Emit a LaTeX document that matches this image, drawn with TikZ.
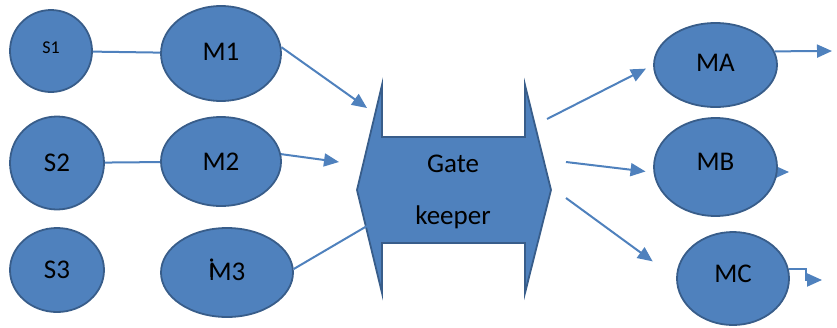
\documentclass[tikz,border=0pt]{standalone}
\usepackage{fontspec}
\setmainfont{Carlito}
\usepackage{tikz}
\usetikzlibrary{arrows.meta}
\usetikzlibrary{shapes.geometric}
\definecolor{boxfill}{HTML}{4F81BD}
\definecolor{boxline}{HTML}{385D8A}

\begin{document}
\begin{tikzpicture}[
x=1pt,y=-1pt,
MyEllipses/.style={ellipse,draw=boxline,fill=boxfill,line width=1.8pt,inner sep=0pt,
  font=\fontsize{27}{30}\selectfont},
Links/.style={draw=boxfill,line width=2pt,line join=miter},
MyArrows/.style={Links,-{Triangle[length=15pt,width=13pt]}}
]
\useasboundingbox (0,0) rectangle (837,327);

% senders
\node[MyEllipses,minimum width=82pt,minimum height=82pt,text depth=6pt,font=\fontsize{18}{20}\selectfont] (S1) at (51,51) {S1};
\node[MyEllipses,minimum width=94pt,minimum height=93pt] (S2) at (57,163) {S2};
\node[MyEllipses,minimum width=94pt,minimum height=84pt] (S3) at (57,270) {S3};

% their mail servers
\node[MyEllipses,minimum width=120pt,minimum height=95pt,text depth=4pt] (M1) at (221,53.5) {M1};
\node[MyEllipses,minimum width=120pt,minimum height=89pt] (M2) at (221,161.5) {M2};
\node[MyEllipses,minimum width=132pt,minimum height=89pt,text depth=6pt] (M3) at (227,272.5) {\rlap{\raisebox{3pt}{i}}M3};

\draw[Links] (S1) -- (M1);
\draw[Links] (S2) -- (M2);

% the gate keeper, a double arrow with open notches
\coordinate (GL) at (357,190);
\coordinate (GR) at (551,190);
\draw[draw=boxline,fill=boxfill,line width=1.8pt,line join=miter]
  (382,85) -- (382,137) -- (525,137) -- (525,85) -- (GR) -- (525,293)
  -- (525,243) -- (382,243) -- (382,293) -- (GL) -- cycle;
\node[anchor=base,font=\fontsize{27}{30}\selectfont] (Gate) at (453,172) {Gate};
\node[anchor=base,font=\fontsize{27}{30}\selectfont] (Keeper) at (453,224) {keeper};

% ends of the lines on both sides of the gate
\coordinate (InA) at (367,108);
\coordinate (InB) at (339,162);
\coordinate (InC) at (367,226);
\coordinate (OutA) at (547,119);
\coordinate (OutB) at (566,162);
\coordinate (OutC) at (566,198);

\draw[MyArrows] (M1.6) -- (InA);
\draw[MyArrows] (M2.7) -- (InB);
\draw[Links] (M3.3) -- (InC);

% receiving servers
\coordinate (EndA) at (832,51);
\coordinate (EndB) at (789,172);
\coordinate (EndC) at (822,280);

%% MB's outgoing arrow sits behind the ellipse
\draw[MyArrows] ([xshift=-40pt]EndB) -- (EndB);

\node[MyEllipses,minimum width=123pt,minimum height=84pt,text depth=4pt] (MA) at (715.5,65) {MA};
\node[MyEllipses,minimum width=123pt,minimum height=98pt,text depth=11pt] (MB) at (715.5,167) {MB};
\node[MyEllipses,minimum width=112pt,minimum height=93pt,text depth=10pt] (MC) at (733,278.5) {MC};

\draw[MyArrows,shorten >=8pt] (OutA) -- (MA.west);
\draw[MyArrows,shorten >=8pt] (OutB) -- (MB.185);
\draw[MyArrows,shorten >=29pt] (OutC) -- (MC.west);

\draw[MyArrows] (MA.13) -- (EndA);
\draw[MyArrows] (MC.10) -- ++(17,0) |- (EndC);

\end{tikzpicture}
\end{document}
